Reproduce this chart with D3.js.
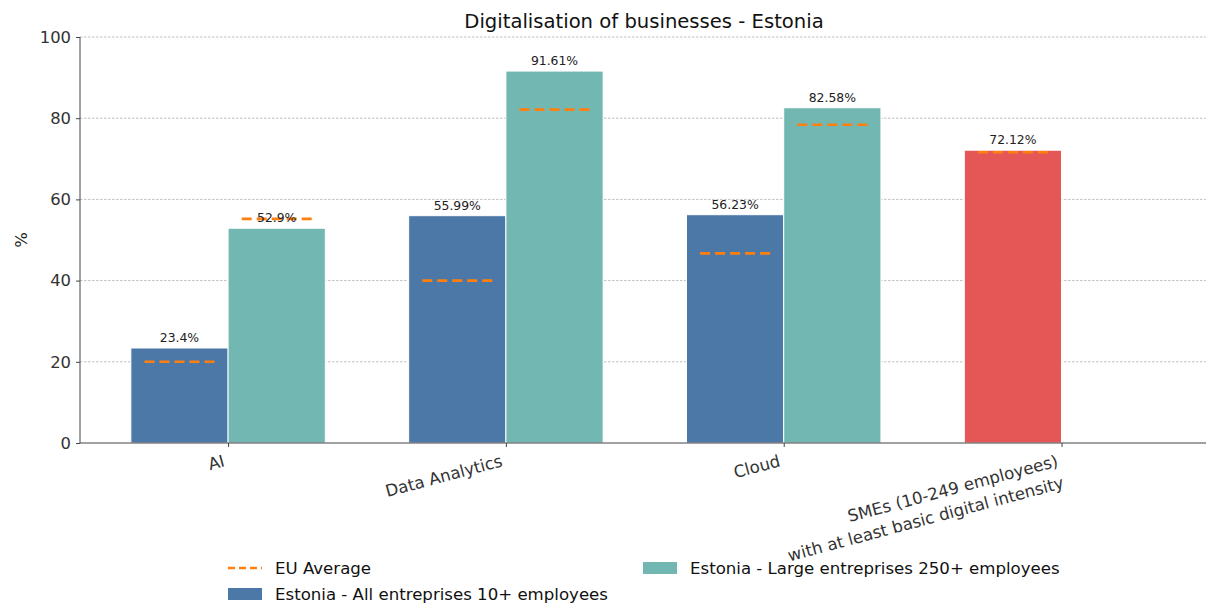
<!DOCTYPE html>
<html><head><meta charset="utf-8">
<script src="https://cdn.jsdelivr.net/npm/d3@7"></script>
<style>body{margin:0;background:#fff}svg{display:block;font-family:"DejaVu Sans",sans-serif}</style>
</head><body><svg id="c" width="1206" height="604"></svg>
<script>
const categories = ["AI", "Data Analytics", "Cloud", "SMEs (10-249 employees)\nwith at least basic digital intensity"];
const allEnterprises = [23.4, 55.99, 56.23, null];
const largeEnterprises = [52.9, 91.61, 82.58, null];
const smeValues = [null, null, null, 72.12];
const euAll = [20.0, 40.0, 46.7, null];
const euLarge = [55.2, 82.1, 78.4, null];
const euSme = [null, null, null, 71.6];
const yTicks = [0, 20, 40, 60, 80, 100];
const seriesNames = ["EU Average", "Estonia - All entreprises 10+ employees", "Estonia - Large entreprises 250+ employees"];
const colors = {all: "#4c78a8", large: "#72b7b2", sme: "#e45756", eu: "#ff7f0e"};

(function () {
const svg = d3.select("#c");
const pL = 80, pR = 1206, pT = 37, pB = 443;
const x = d3.scaleLinear().domain([-0.533, 3.52]).range([pL, pR]);
const y = d3.scaleLinear().domain([0, 100]).range([pB, pT]);
const w = 0.35;

// grid
svg.append("g").selectAll("line").data(yTicks.filter(d => d > 0)).join("line")
  .attr("x1", pL).attr("x2", pR).attr("y1", d => y(d)).attr("y2", d => y(d))
  .attr("stroke", "#b0b0b0").attr("stroke-width", 0.8).attr("stroke-dasharray", "2.5,1.5");

// bars
const bars = [];
categories.forEach((c, i) => {
  if (allEnterprises[i] != null) bars.push({i, v: allEnterprises[i], x0: i - w, col: colors.all, eu: euAll[i]});
  if (largeEnterprises[i] != null) bars.push({i, v: largeEnterprises[i], x0: i, col: colors.large, eu: euLarge[i]});
  if (smeValues[i] != null) bars.push({i, v: smeValues[i], x0: i - w, col: colors.sme, eu: euSme[i]});
});
svg.append("g").selectAll("rect").data(bars).join("rect")
  .attr("x", d => x(d.x0)).attr("width", d => x(d.x0 + w) - x(d.x0))
  .attr("y", d => y(d.v)).attr("height", d => y(0) - y(d.v))
  .attr("fill", d => d.col).attr("stroke", "#fff").attr("stroke-width", 1);

// EU lines
svg.append("g").selectAll("line").data(bars.filter(d => d.eu != null)).join("line")
  .attr("x1", d => x(d.x0 + w / 2) - 35).attr("x2", d => x(d.x0 + w / 2) + 35)
  .attr("y1", d => y(d.eu)).attr("y2", d => y(d.eu))
  .attr("stroke", colors.eu).attr("stroke-width", 2.6).attr("stroke-dasharray", "10,5");

// value labels
svg.append("g").selectAll("text").data(bars).join("text")
  .attr("x", d => x(d.x0 + w / 2)).attr("y", d => y(d.v) - 6)
  .attr("text-anchor", "middle").attr("font-size", 12.4).attr("fill", "#222")
  .text(d => d.v + "%");

// y axis
const ya = svg.append("g").attr("transform", `translate(${pL},0)`)
  .call(d3.axisLeft(y).tickValues(yTicks).tickSize(4).tickPadding(5));
ya.select(".domain").attr("stroke", "#444").attr("d", `M0,${pB}V${pT}`);
ya.selectAll(".tick line").attr("stroke", "#444");
ya.selectAll("text").attr("font-size", 16.4).attr("fill", "#333").attr("font-family", "DejaVu Sans");

// x axis
const xa = svg.append("g").attr("transform", `translate(0,${pB})`)
  .call(d3.axisBottom(x).tickValues(d3.range(categories.length)).tickSize(4).tickFormat(""));
xa.select(".domain").attr("stroke", "#444").attr("d", `M${pL},0H${pR}`);
xa.selectAll(".tick line").attr("stroke", "#444");

// category labels
categories.forEach((c, i) => {
  const lines = c.split("\n");
  const g = svg.append("g").attr("transform", `translate(${x(i) - 2.5},${pB + 23}) rotate(-15)`);
  lines.forEach((ln, k) => {
    g.append("text").attr("x", 0).attr("y", k * 22.5).attr("text-anchor", "end")
      .attr("font-size", 16.6).attr("fill", "#333").text(ln);
  });
});

// y label
svg.append("text").attr("transform", "translate(27,240) rotate(-90)")
  .attr("text-anchor", "middle").attr("font-size", 16.5).attr("fill", "#222").text("%");

// title
svg.append("text").attr("x", 644).attr("y", 28).attr("text-anchor", "middle")
  .attr("font-size", 19.6).attr("fill", "#111").text("Digitalisation of businesses - Estonia");

// legend
const lg = svg.append("g");
const leg = [
  {name: seriesNames[0], type: "line", lx: 228, ly: 568},
  {name: seriesNames[1], type: "rect", col: colors.all, lx: 228, ly: 594},
  {name: seriesNames[2], type: "rect", col: colors.large, lx: 643, ly: 568}
];
leg.forEach(d => {
  if (d.type === "line") {
    lg.append("line").attr("x1", d.lx).attr("x2", d.lx + 34).attr("y1", d.ly).attr("y2", d.ly)
      .attr("stroke", colors.eu).attr("stroke-width", 2.6).attr("stroke-dasharray", "7,4");
  } else {
    lg.append("rect").attr("x", d.lx).attr("y", d.ly - 6).attr("width", 34).attr("height", 12).attr("fill", d.col);
  }
  lg.append("text").attr("x", d.lx + 47).attr("y", d.ly + 6).attr("font-size", 16.6).attr("fill", "#111").text(d.name);
});
})();
</script></body></html>
